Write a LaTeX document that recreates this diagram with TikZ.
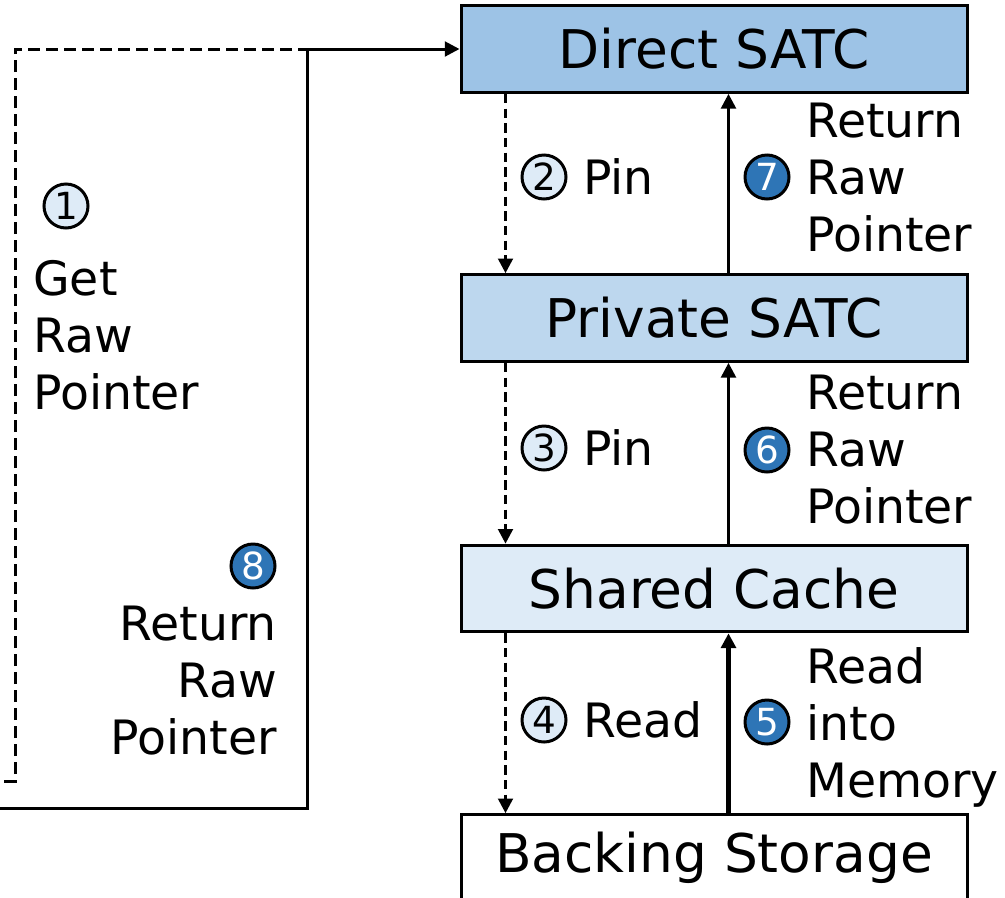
\documentclass[tikz,border=0pt]{standalone}
\usepackage{fontspec}
\setmainfont{DejaVu Sans}
\usetikzlibrary{arrows.meta,calc}
\definecolor{directfill}{HTML}{9DC3E6}
\definecolor{privatefill}{HTML}{BDD7EE}
\definecolor{sharedfill}{HTML}{DEEBF7}
\definecolor{stepdark}{HTML}{2E75B6}
\begin{document}
\begin{tikzpicture}[x=0.75pt,y=-0.75pt,
  layer/.style={draw, line width=2.25pt, minimum width=379.5pt, minimum height=65pt,
    inner sep=0pt, font=\fontsize{40}{48}\selectfont},
  num/.style={circle, draw, line width=2.25pt, minimum size=33pt, inner sep=0pt,
    font=\fontsize{28}{32}\selectfont},
  lightnum/.style={num, fill=sharedfill},
  darknum/.style={num, fill=stepdark, text=white},
  lbl/.style={inner sep=0pt, font=\fontsize{35.5}{42.75}\selectfont},
  flow/.style={line width=2.25pt, -{Triangle[length=11pt,width=11pt]}},
  pinflow/.style={flow, dash pattern=on 7pt off 4pt}]
\useasboundingbox (0,0) rectangle (1005,897);

% cache layers
\node[layer, fill=directfill]  (direct)  at (714,49)    {Direct SATC};
\node[layer, fill=privatefill] (private) at (714,318)   {Private SATC};
\node[layer, fill=sharedfill]  (shared)  at (714,588.5) {Shared Cache};
\node[layer, fill=white]       (backing) at (714,858)   {Backing Storage};

% pin / read requests going down
\draw[pinflow] ($(direct.south west)+(46,0)$)  -- ($(private.north west)+(46,0)$);
\draw[pinflow] ($(private.south west)+(46,0)$) -- ($(shared.north west)+(46,0)$);
\draw[pinflow] ($(shared.south west)+(46,0)$)  -- ($(backing.north west)+(46,0)$);

% pointers returned upwards
\draw[flow] ($(private.north west)+(269,0)$) -- ($(direct.south west)+(269,0)$);
\draw[flow] ($(shared.north west)+(269,0)$)  -- ($(private.south west)+(269,0)$);
\draw[flow, line width=3.75pt] ($(backing.north west)+(269,0)$) -- ($(shared.south west)+(269,0)$);

% client request and return loop
\coordinate (gtail) at (4,781);
\coordinate (gcorner) at (15,49);
\coordinate (rtail) at (0,808);
\coordinate (rcorner) at (307,49);
\draw[line width=2.25pt, dash pattern=on 9pt off 4.5pt] (gtail) -| (gcorner) -- (direct.west);
\draw[flow] (rtail) -| (rcorner) -- (direct.west);

% step markers and labels
\node[lightnum] (n1) at (66,206) {1};
\node[lbl, anchor=west, align=left] (l1) at (33,335) {Get\\Raw\\Pointer};
\node[lightnum] (n2) at (544,177) {2};
\node[lbl, anchor=west] (l2) at (583,177) {Pin};
\node[lightnum] (n3) at (544,448) {3};
\node[lbl, anchor=west] (l3) at (583,448) {Pin};
\node[lightnum] (n4) at (544,720) {4};
\node[lbl, anchor=west] (l4) at (583,720) {Read};
\node[darknum] (n5) at (767,722) {5};
\node[lbl, anchor=west, align=left] (l5) at (806,727) {Read\\into\\Memory};
\node[darknum] (n6) at (767,450) {6};
\node[lbl, anchor=west, align=left] (l6) at (806,450) {Return\\Raw\\Pointer};
\node[darknum] (n7) at (767,177) {7};
\node[lbl, anchor=west, align=left] (l7) at (806,178) {Return\\Raw\\Pointer};
\node[darknum] (n8) at (253,566) {8};
\node[lbl, anchor=east, align=right] (l8) at (277,681) {Return\\Raw\\Pointer};
\end{tikzpicture}
\end{document}
